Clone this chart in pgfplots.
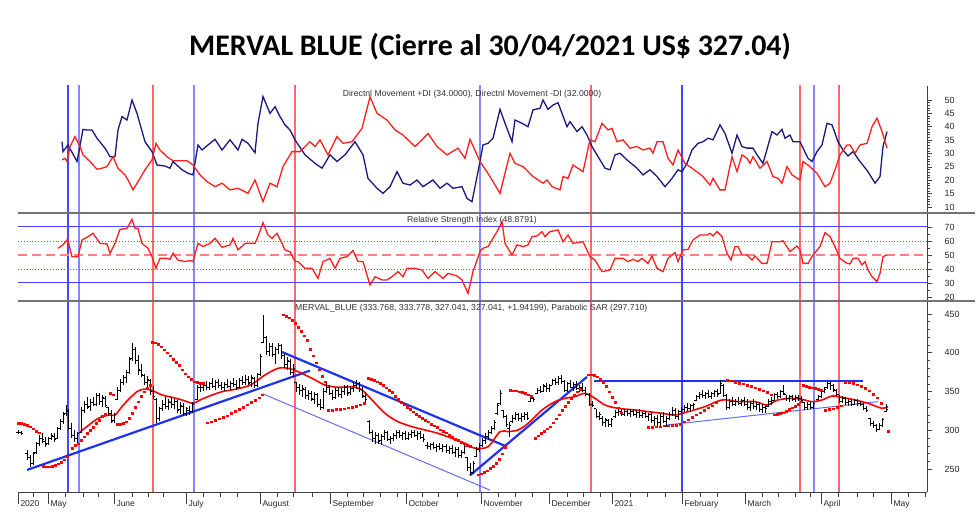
\documentclass[border=0pt]{standalone}
\usepackage{fontspec}
\setmainfont{Liberation Sans}
\newfontfamily\titlefont{Carlito}
\usepackage{pgfplots}
\usepackage{pgfplotstable}
\pgfplotsset{compat=1.18}
\pgfdeclareplotmark{rtick}{\pgfpathmoveto{\pgfpointorigin}\pgfpathlineto{\pgfpoint{1.6bp}{0bp}}\pgfusepathqstroke}
\pgfdeclareplotmark{ltick}{\pgfpathmoveto{\pgfpointorigin}\pgfpathlineto{\pgfpoint{-1.6bp}{0bp}}\pgfusepathqstroke}
\definecolor{vblue}{RGB}{70,70,255}
\definecolor{vblueL}{RGB}{135,135,255}
\definecolor{vredc}{RGB}{255,105,105}
\definecolor{tblue}{RGB}{30,50,240}
\definecolor{navy}{RGB}{25,25,125}
\definecolor{lred}{RGB}{255,30,30}

\pgfplotstableread{
x o h l c
18 298 300 295 297
21 297 299 294 296
27 270 275 262 265
30 265 268 253 258
33 258 272 256 270
36 272 285 270 283
39 283 294 280 290
42 290 296 284 288
45 286 292 278 282
48 283 292 281 290
51 290 297 287 294
54 292 296 285 289
57 290 305 289 302
60 303 315 300 312
63 312 324 308 320
66 322 333 318 326
68 325 328 300 303
71 303 309 290 294
74 294 300 285 290
77 290 298 281 296
81 297 330 296 326
84 326 338 322 334
87 334 343 328 330
90 331 341 325 336
93 336 343 331 333
96 334 348 332 345
99 345 348 333 337
102 338 345 330 342
105 341 344 330 332
108 330 330 318 322
111 322 326 309 312
114 313 322 310 320
117 340 356 339 352
120 352 366 350 362
123 362 372 358 368
126 368 378 361 375
129 375 395 373 392
132 393 412 390 405
135 404 408 385 390
138 390 397 372 378
141 377 385 369 372
144 371 373 358 362
147 362 370 356 366
150 365 366 345 350
153 350 357 341 344
156 340 342 309 316
159 316 330 312 328
162 328 339 325 334
165 334 343 328 331
168 331 340 326 337
171 336 343 329 333
174 333 341 328 338
177 337 339 322 326
180 327 336 321 332
183 331 335 318 322
186 322 330 318 328
189 326 332 320 324
192 325 336 322 334
197 340 358 339 355
200 355 362 350 356
203 355 362 351 358
206 358 364 352 355
209 356 363 352 360
212 360 367 354 357
215 357 365 352 362
218 362 366 354 358
221 358 363 352 356
224 356 362 351 359
227 359 366 354 357
230 357 364 352 361
233 361 368 356 359
236 359 365 352 355
239 356 368 354 365
242 365 370 358 362
245 362 371 358 366
248 366 370 358 361
251 362 371 356 368
254 367 369 354 358
257 358 374 356 372
260 372 399 370 395
263 414 449 412 420
266 420 421 397 402
269 402 412 396 408
272 408 412 395 398
275 398 407 386 404
278 404 412 398 410
281 409 411 392 396
284 396 399 380 385
287 385 394 378 390
290 389 392 372 375
293 375 385 369 380
296 362 363 350 355
299 355 360 346 351
302 351 358 343 354
305 353 356 341 345
308 345 352 339 348
311 348 351 338 341
314 340 350 334 347
317 346 348 330 334
320 334 340 326 329
323 330 354 328 350
326 350 361 348 356
329 356 358 345 348
332 348 352 339 342
335 342 355 340 352
338 352 356 343 346
341 346 354 342 350
344 350 358 346 355
347 355 358 344 348
350 349 357 345 354
353 354 362 350 358
356 358 365 353 361
359 360 362 350 353
362 353 356 342 345
365 344 348 337 340
369 312 314 295 298
372 298 300 285 290
375 290 298 283 294
378 294 297 282 286
381 287 295 281 292
384 292 300 288 297
387 297 299 286 288
390 288 293 283 290
393 290 296 286 294
396 294 300 289 297
399 297 300 290 293
402 293 298 288 296
405 296 299 287 290
408 290 298 287 295
411 295 300 290 297
414 297 300 291 293
417 293 299 288 296
420 296 299 289 291
423 291 295 285 288
427 281 285 276 279
430 279 284 275 282
433 282 285 276 278
436 278 283 272 280
439 280 284 275 277
442 277 282 272 279
446 279 283 271 274
449 274 280 270 277
452 277 281 269 272
455 272 278 266 275
458 275 279 264 268
461 268 275 265 272
464 272 283 270 280
467 265 266 248 252
470 252 258 243 246
473 246 260 244 258
476 266 278 266 275
479 275 284 272 281
482 281 290 278 287
485 287 296 283 292
488 292 300 288 297
491 297 306 295 303
494 303 313 300 310
497 322 335 320 332
500 335 352 333 348
503 326 326 316 318
506 318 320 305 308
509 302 311 292 306
512 311 320 309 316
515 316 324 313 320
518 320 323 312 315
521 315 322 311 318
524 318 324 314 321
527 321 324 313 316
530 337 343 336 341
533 341 343 337 340
537 348 355 347 352
540 352 357 348 350
543 350 360 349 358
546 357 361 350 354
549 354 360 350 358
552 358 366 358 364
555 364 367 358 362
558 362 370 359 367
561 367 371 360 363
564 363 365 350 352
567 352 362 350 360
570 360 365 354 356
573 356 362 351 359
576 359 364 352 354
579 354 358 350 356
582 356 361 350 352
585 352 356 344 346
589 346 348 331 334
592 334 338 330 332
596 328 328 316 318
599 318 324 314 320
602 316 318 306 310
605 310 316 305 314
608 313 315 305 308
611 308 316 305 314
615 318 326 316 323
618 323 328 318 325
621 325 328 319 321
624 321 327 318 325
627 325 328 318 322
630 322 327 317 324
633 324 328 318 320
636 320 326 316 323
639 323 327 316 319
642 319 324 316 322
645 322 325 316 318
648 318 322 312 320
651 320 324 310 313
654 313 318 306 315
657 315 320 305 310
660 310 322 306 318
663 318 324 310 312
666 312 318 305 316
669 316 324 313 321
672 321 330 318 326
675 326 329 315 318
678 318 326 313 324
681 324 330 321 327
684 327 333 324 330
687 330 335 325 328
690 328 334 324 332
693 332 335 327 333
696 339 346 338 344
699 344 350 340 347
702 347 352 342 345
705 345 350 340 348
708 348 352 342 344
711 344 350 340 348
714 348 352 343 350
717 350 353 343 346
720 348 365 347 360
723 358 360 343 345
726 345 347 326 330
729 330 340 328 337
732 337 343 331 334
735 334 341 331 338
738 338 343 333 335
741 335 341 331 339
744 339 343 332 334
747 334 341 326 330
750 330 338 325 335
753 335 341 328 331
756 331 337 326 333
759 333 337 324 327
762 327 334 322 330
765 330 333 322 328
768 331 340 330 338
771 338 343 333 336
774 339 348 338 346
777 346 350 340 344
780 344 352 342 350
783 350 358 346 348
786 346 346 338 341
789 341 346 337 344
792 344 346 338 340
795 340 345 337 343
798 343 346 338 341
801 341 344 337 339
804 336 337 326 329
807 329 336 326 333
810 333 337 327 330
813 330 337 328 335
818 340 346 339 344
821 344 352 342 350
824 350 356 348 353
827 355 363 353 360
830 360 362 352 358
833 358 360 350 353
836 352 353 344 346
839 346 346 335 338
842 338 344 335 341
845 341 343 333 336
848 336 341 331 338
851 338 341 331 334
854 334 341 333 339
857 339 341 332 335
860 335 338 331 333
863 333 335 326 328
866 328 331 324 326
870 316 316 306 309
873 309 312 303 306
876 306 308 298 301
879 301 310 300 306
882 306 316 304 314
886 324 334 324 327
}\bars

\pgfplotsset{
  panel/.style={
    scale only axis, width=909bp, xmin=18, xmax=927, clip=true,
    axis y line*=right, axis line style={-, black!75},
    tick align=outside, major tick length=5bp, minor tick length=3bp,
    tick style={black!75, line width=0.6bp},
    yticklabel style={font=\fontsize{9}{10}\selectfont, text=black!85, anchor=west, xshift=9bp},
    /pgf/number format/assume math mode=true,
  },
  vb/.style={draw=vblue, line width=1.1bp, forget plot},
  vbl/.style={draw=vblueL, line width=1.1bp, forget plot},
  vr/.style={draw=vredc, line width=1.1bp, forget plot},
}
\newcommand\vlines{%
  \addplot[vb] coordinates {(68,0)(68,1000)};
  \addplot[vbl] coordinates {(79,0)(79,1000)};
  \addplot[vbl] coordinates {(194,0)(194,1000)};
  \addplot[vbl] coordinates {(480,0)(480,1000)};
  \addplot[vb] coordinates {(682,0)(682,1000)};
  \addplot[vbl] coordinates {(814,0)(814,1000)};
  \addplot[vr] coordinates {(153,0)(153,1000)};
  \addplot[vr] coordinates {(295,0)(295,1000)};
  \addplot[vr] coordinates {(591,0)(591,1000)};
  \addplot[vr] coordinates {(800,0)(800,1000)};
  \addplot[vr] coordinates {(839,0)(839,1000)};
}

\begin{document}
\begin{tikzpicture}
\path[use as bounding box] (0,0) rectangle (980bp,522bp);
\node[font=\titlefont\bfseries\fontsize{30}{34}\selectfont] at (490bp,475bp) {MERVAL BLUE (Cierre al 30/04/2021 US\$ 327.04)};

% ---------- Panel 1: DMI ----------
\begin{axis}[panel, at={(18bp,309bp)}, anchor=south west, height=127bp,
  axis x line=none, ymin=7.76, ymax=55.23,
  ytick={10,15,...,50}, minor y tick num=4]
\vlines
\addplot[navy, line width=1.3bp] coordinates {(62,34.4)(63,30.7)(68,33.2)(77,27)(83,39)(87,38.8)(92,38.8)(97,35.7)(105,32)(110,28.8)(115,28.8)(118,38.8)(122,43.8)(127,42.5)(132,50)(137,45)(145,34.4)(152,30.7)(157,25.7)(165,25.3)(170,24.5)(173,27)(182,23.9)(188,22.6)(193,22)(198,33.2)(202,31.3)(208,33.2)(215,35.3)(222,31.3)(230,35.1)(238,31.3)(242,35.3)(248,33.8)(255,30.3)(258,41.3)(263,51.3)(270,45)(275,47.5)(280,43.8)(285,40.7)(290,38.8)(295,35.1)(305,29.5)(315,26.3)(322,24.5)(330,29.5)(337,27)(345,29.5)(355,34.4)(363,29.5)(368,20.7)(377,17)(383,15.1)(390,17.6)(397,23.2)(403,18.9)(410,18.2)(417,20.1)(423,17.6)(433,20.1)(440,17)(447,18.9)(453,17)(462,17.6)(467,13.2)(472,12)(480,27)(483,33.2)(488,33.8)(493,35.7)(500,46.5)(505,41.3)(512,34.4)(515,42.5)(522,41.3)(528,40)(533,46.3)(540,46.9)(543,50)(548,46.5)(553,48.1)(558,49)(562,45)(567,40)(570,41.9)(577,38.2)(582,40)(587,36.9)(592,32.6)(600,27.6)(605,24.5)(610,23.9)(615,29.5)(620,30.1)(627,27.6)(637,24.5)(643,22)(650,23.9)(657,21.4)(665,17.6)(672,20.7)(678,23.9)(682,23.2)(687,26.3)(692,31.3)(698,33.8)(703,34.4)(708,35.7)(713,35.1)(720,40.7)(725,37.5)(732,30.1)(737,36.9)(742,32.6)(747,32)(753,32)(757,29.5)(763,26.3)(772,38.2)(777,36.9)(782,39)(785,35.7)(790,36.9)(793,34.4)(800,34.4)(808,28.2)(812,27)(817,30.7)(822,33.2)(827,41.3)(832,40.7)(838,34.4)(843,31.3)(848,29.1)(853,30.7)(860,27)(868,23.2)(875,18.9)(880,21.4)(883,32.6)(887,38.2)};
\addplot[lred, line width=1.3bp] coordinates {(62,27.6)(65,28.2)(67,27)(70,32.6)(75,36.3)(80,32.6)(83,29.5)(90,27)(97,24.1)(102,24.5)(107,25.1)(113,28.8)(118,24.5)(125,22)(128,20.1)(133,16.4)(140,20.7)(145,23.9)(152,27.6)(156,33.8)(160,31.3)(167,28.8)(173,27.3)(187,27.3)(193,25.7)(200,22)(207,19.5)(215,17.6)(222,18.9)(230,16.4)(238,17)(248,15.1)(255,20.1)(263,12)(270,18.9)(277,17.6)(283,25.1)(292,30.7)(300,30.7)(310,34.4)(315,32.6)(320,35.1)(328,29.5)(337,36.3)(343,33.8)(352,34.4)(362,39.4)(370,51.2)(377,45)(387,42.5)(395,38.8)(403,36.9)(415,32.6)(422,35.1)(428,37.5)(437,32.6)(447,29.5)(458,32)(465,28.2)(470,35.3)(480,27)(490,21.4)(500,15.1)(510,30.1)(515,26.3)(523,25.1)(533,21.4)(543,18.9)(547,20.1)(552,17.6)(560,16.4)(563,21.4)(568,20.7)(573,25.7)(583,23.2)(590,35.1)(595,34.4)(602,41.3)(608,38.8)(612,39.4)(617,34.4)(623,35.1)(630,32)(637,32.6)(643,31.3)(650,32)(653,30.1)(657,34.4)(663,34.4)(668,28.2)(673,25.7)(678,31.3)(685,26.3)(692,24.5)(703,21.4)(710,18.2)(713,20.7)(720,16.4)(725,16.4)(732,28.8)(737,23.2)(742,29.5)(747,28.2)(750,26.3)(753,28.8)(760,24.5)(767,27)(773,21.4)(778,20.7)(782,18.9)(787,25.1)(792,22)(800,20.1)(803,27)(808,25.7)(817,22.6)(825,17.6)(830,18.9)(835,23.9)(840,29.5)(847,33.2)(850,33.2)(855,30.1)(860,33.2)(867,33.8)(872,40)(877,43.2)(882,38.2)(887,32)};
\end{axis}

% ---------- Panel 2: RSI ----------
\begin{axis}[panel, at={(18bp,221bp)}, anchor=south west, height=88bp,
  axis x line=none, ymin=17.14, ymax=80,
  ytick={20,30,...,70}, minor y tick num=1]
\vlines
\addplot[vblue, line width=1bp] coordinates {(18,70)(927,70)};
\addplot[vblue, line width=1bp] coordinates {(18,30)(927,30)};
\addplot[red!80, line width=0.9bp, dotted] coordinates {(18,60)(927,60)};
\addplot[red!80, line width=0.9bp, dotted] coordinates {(18,40)(927,40)};
\addplot[red!50, line width=1.2bp, dash pattern=on 9bp off 5bp] coordinates {(18,50)(927,50)};
\addplot[lred, line width=1.3bp] coordinates {(58,54.8)(63,57.2)(67,60.7)(68,60.2)(72,48.8)(78,48.8)(82,60.7)(88,63.1)(93,65.5)(100,58.3)(107,57.9)(110,51.2)(115,58.3)(120,68.3)(127,69)(132,75.5)(135,69)(138,69)(142,58.3)(148,54.8)(152,48.8)(156,40.5)(160,47.6)(167,47.6)(170,46.9)(173,51.2)(178,46.4)(185,45.3)(190,46)(193,45.3)(198,58.3)(203,56)(210,58.3)(215,61.9)(222,55.5)(230,57.2)(233,61.9)(238,53.6)(245,58.3)(255,58.3)(258,63.1)(263,73.1)(268,64.3)(272,61.9)(277,65.5)(282,58.3)(285,53.6)(290,52.4)(295,45.3)(298,45.3)(305,40.5)(312,40.5)(318,33.3)(323,45.3)(330,47.6)(335,40.5)(340,47.6)(347,48.8)(353,53.1)(358,45.3)(363,45.3)(370,28.6)(375,34.5)(382,32.2)(387,32.2)(392,34.5)(398,38.1)(403,34.5)(407,40.5)(415,40.5)(422,39.3)(428,33.3)(435,38.1)(443,33.3)(448,36.9)(457,35)(462,32.2)(468,22.6)(473,38.1)(480,52.4)(483,54.8)(488,56)(493,61.9)(498,67.9)(502,73.8)(505,58.3)(512,50)(517,57.2)(523,56)(528,57.2)(532,63.1)(537,63.6)(542,66.7)(545,63.1)(550,66.7)(558,67.9)(563,59.5)(568,64.3)(573,58.3)(583,59.5)(590,48.8)(595,46.4)(602,38.1)(610,39.3)(615,47.6)(623,47.6)(628,45.3)(633,46.9)(638,45.3)(642,47.6)(648,44)(652,49.3)(657,40.5)(663,38.1)(668,47.6)(675,51.7)(678,45.3)(683,53.6)(688,54)(693,60.7)(700,64.3)(707,64.3)(710,65.5)(713,63.6)(717,66.7)(722,63.1)(727,51.2)(731,46.4)(735,56)(738,56)(742,50)(747,50)(752,46.4)(755,49.3)(762,44)(767,44)(772,59.5)(780,59.5)(783,60.2)(790,52.4)(797,56.4)(800,53.6)(803,44)(808,44)(813,50)(820,56)(825,66)(830,63.1)(835,56)(840,47.6)(847,44)(850,43.6)(853,47.6)(858,47.6)(862,42.9)(865,45.3)(868,39.3)(872,34.5)(877,31)(880,36.9)(883,48.8)(887,50)};
\end{axis}

% ---------- Panel 3: price ----------
\begin{axis}[panel, at={(18bp,30bp)}, anchor=south west, height=191bp,
  axis x line=none, ymin=220.6, ymax=466.75,
  ytick={250,300,...,450}, minor y tick num=4]
\vlines
% trend lines
\addplot[tblue, line width=2.2bp] coordinates {(27,249)(310,377)};
\addplot[tblue, line width=2.2bp] coordinates {(282,401)(507,279)};
\addplot[tblue!70, line width=1bp] coordinates {(263,347)(490,223)};
\addplot[tblue, line width=2.2bp] coordinates {(470,242)(587,369)};
\addplot[tblue, line width=1.6bp] coordinates {(594,363.5)(863,363.5)};
\addplot[tblue!70, line width=1bp] coordinates {(667,307)(878,337)};
% moving average
\addplot[red, line width=1.6bp, smooth] coordinates {(80,298.3)(87,304.8)(93,311.2)(102,317.7)(110,319.8)(115,319.8)(122,330.6)(128,339.2)(137,349.9)(143,352.9)(148,352.9)(155,349.9)(162,345.6)(172,342.6)(182,339.2)(193,334.9)(200,339.2)(208,343.5)(222,349.9)(235,352.9)(248,357.2)(255,362)(265,371.4)(278,380)(288,380)(298,375.7)(312,367.1)(325,358.5)(338,355.5)(352,356.3)(362,352)(372,339.2)(385,322)(398,311.2)(412,304.8)(425,300.5)(438,296.2)(452,289.7)(465,283.3)(475,277)(488,279)(500,298.4)(508,298.4)(518,300.5)(528,309)(542,326.3)(555,337)(565,341.3)(575,343.5)(585,347.8)(595,341.3)(605,332.7)(618,328.4)(635,326.3)(648,324.1)(662,322)(675,319.8)(688,324.1)(705,330.6)(722,339.2)(738,337)(755,337)(767,332.7)(778,339.2)(792,341.3)(802,340)(812,337)(822,339.2)(832,344.3)(842,342.6)(855,339.2)(868,334.9)(882,328.4)(888,330.6)};
% parabolic SAR
\addplot[red, only marks, mark=square*, mark size=0.8bp, mark options={draw=none, fill=red}] coordinates {
(18,309)(21,309)(24,308)(27,307)(30,305)(33,302)(36,299)(39,297)
(43,254)(46,253)(49,253)(52,254)(55,255)(58,257)(61,259)(64,262)(67,266)
(72,277)(75,281)(78,283)(81,287)(84,292)(87,296)(90,300)(93,304)(96,309)(99,313)(102,318)(105,321)
(110,348)(113,346)
(117,308)(120,308)(123,309)(126,311)(129,316)(132,322)(135,330)(138,337)(141,344)(144,350)(147,355)(150,358)
(152,414)(155,413)(158,411)(161,408)(164,404)(167,400)(170,396)(173,392)(176,388)(179,384)(182,378)(185,373)(188,369)(191,366)(194,363)(197,362)(200,361)(203,361)
(207,310)(211,311)(215,313)(219,315)(223,317)(227,319)(231,322)(235,325)(239,327)(243,330)(247,333)(251,336)(255,339)(259,342)(262,346)
(283,449)(286,447)(289,445)(292,442)(295,438)(298,433)(301,428)(304,422)(307,416)(310,405)(313,396)(316,387)(319,378)(322,370)(325,363)
(328,326)(332,326)(336,327)(340,327)(344,328)(348,329)(352,330)(356,331)(360,333)(364,335)
(368,367)(371,366)(374,365)(377,363)(380,361)(383,358)(386,355)(389,352)(392,349)(395,344)(398,340)(401,336)(404,333)(407,330)(410,327)(413,324)(416,321)(419,318)(422,316)(425,313)(428,311)(431,308)(434,306)(437,304)(440,301)(443,299)(446,297)(449,294)(452,292)(455,289)(458,287)(461,285)(464,283)(467,281)(470,280)
(478,243)(481,244)(484,246)(487,248)(490,251)(493,254)(496,258)(499,263)(502,270)(505,278)
(510,352)(513,351)(516,351)(519,350)(522,349)(525,348)(528,346)(531,344)
(535,290)(538,293)(541,296)(544,299)(547,302)(550,305)(553,310)(556,315)(559,320)(562,326)(565,331)(568,336)(571,341)(574,346)(577,350)(580,353)
(588,372)(591,372)(594,371)(597,369)(600,366)(603,362)(606,357)(609,350)(612,343)(615,336)(618,329)(621,323)
(648,304)(652,304)(656,305)(660,305)(664,306)(668,306)(672,307)(676,307)(680,308)(684,311)(688,314)(692,317)(696,320)(700,323)(704,326)(708,329)(712,332)(716,336)
(727,365)(731,364)(735,362)(739,361)(743,360)(747,358)(751,357)(755,355)(759,353)(763,351)(767,349)(771,346)
(774,320)(777,321)(780,322)(783,323)(786,325)(789,327)(792,329)(795,331)(798,334)(801,337)
(803,358)(806,357)(809,356)(812,355)(815,354)(818,353)(821,352)
(825,326)(829,327)(833,328)(837,330)(841,332)
(845,362)(849,362)(853,361)(857,359)(861,357)(865,354)(869,351)(873,347)(877,342)(881,335)
(888,299)};
% OHLC bars
\addplot[black, line width=0.8bp, only marks, mark=rtick,
  error bars/.cd, y dir=both, y explicit, error mark=none,
  error bar style={black, line width=0.8bp}]
  table[x=x, y=c, y error plus expr=\thisrow{h}-\thisrow{c}, y error minus expr=\thisrow{c}-\thisrow{l}] {\bars};
\addplot[black, line width=0.8bp, only marks, mark=ltick] table[x=x, y=o] {\bars};
\end{axis}

% ---------- bottom date axis ----------
\begin{axis}[scale only axis, width=909bp, height=191bp, at={(18bp,30bp)}, anchor=south west,
  xmin=18, xmax=927, ymin=0, ymax=1,
  axis x line*=bottom, axis y line=none, axis line style={-, black!75},
  tick align=outside, major tick length=12bp, minor tick length=5bp,
  tick style={black!75, line width=0.6bp},
  xtick={18,48,114,186,260,330,406,481,549,612,682,745,821,891},
  xticklabels={2020,May,June,July,August,September,October,November,December,2021,February,March,April,May},
  minor xtick={33,65,83,98,132,148,163,203,220,237,277,293,312,347,363,380,397,422,438,457,498,515,532,567,583,600,630,647,665,700,717,762,778,795,810,838,857,873,908,925},
  xticklabel style={font=\fontsize{8.5}{10}\selectfont, text=black!85, anchor=north west, xshift=-1bp, yshift=7bp}]
\addplot[draw=none, forget plot] coordinates {(18,0)(927,1)};
\end{axis}

% separators and panel captions
\draw[black!55, line width=1.3bp] (18bp,309bp) -- (975bp,309bp);
\draw[black!55, line width=1.3bp] (18bp,221bp) -- (975bp,221bp);
\node[font=\fontsize{8.7}{10}\selectfont, text=black!80] at (472bp,428bp) {Directnl Movement +DI (34.0000), Directnl Movement -DI (32.0000)};
\node[font=\fontsize{8.7}{10}\selectfont, text=black!80] at (472bp,302bp) {Relative Strength Index (48.8791)};
\node[font=\fontsize{8.7}{10}\selectfont, text=black!80, anchor=west, inner sep=0pt] at (295bp,214bp) {MERVAL\_BLUE (333.768, 333.778, 327.041, 327.041, +1.94199), Parabolic SAR (297.710)};
\end{tikzpicture}
\end{document}
